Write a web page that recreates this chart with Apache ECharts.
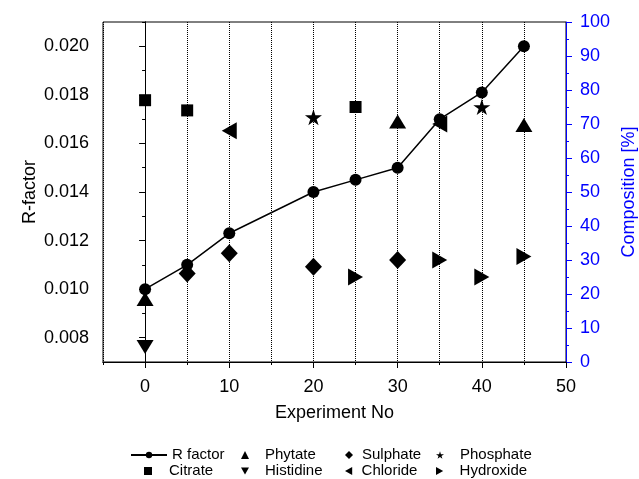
<!DOCTYPE html>
<html>
<head>
<meta charset="utf-8">
<script src="https://cdn.jsdelivr.net/npm/echarts@6/dist/echarts.min.js"></script>
<style>
html, body { margin: 0; padding: 0; background: #fff; }
#main { width: 639px; height: 479px; }
</style>
</head>
<body>
<div id="main"></div>
<script>
// R factor (left axis)
var expNo = [0, 5, 10, 20, 25, 30, 35, 40, 45];
var rFactor = [0.0100, 0.0110, 0.0123, 0.0140, 0.0145, 0.0150, 0.0170, 0.0181, 0.0200];

// composition [%] (right axis)
var citrateX = [0, 5, 25];
var citrate = [77, 74, 75];
var phytateX = [0, 30, 45];
var phytate = [18.5, 70.7, 69.7];
var histidineX = [0];
var histidine = [4.4];
var sulphateX = [5, 10, 20, 30];
var sulphate = [26, 32, 28, 30];
var chlorideX = [10, 35];
var chloride = [68, 70];
var phosphateX = [20, 40];
var phosphate = [72, 75];
var hydroxideX = [25, 35, 40, 45];
var hydroxide = [25, 30, 25, 31];

var FONT = 'Liberation Sans, Arial, Helvetica, sans-serif';
var BLUE = '#0000ff';

var downTri = 'path://M0,0L10,0L5,9Z';
var leftTri = 'path://M9,0L9,10L0,5Z';
var rightTri = 'path://M0,0L0,10L9,5Z';
var star = 'path://M50,0L61,35L98,35L68,57L79,91L50,70L21,91L32,57L2,35L39,35Z';

function pairs(xs, ys) {
    var out = [];
    for (var i = 0; i < xs.length; i++) {
        out.push([xs[i], ys[i]]);
    }
    return out;
}

function comp(name, xs, ys, symbol, size) {
    return {
        name: name,
        type: 'scatter',
        xAxisIndex: 0,
        yAxisIndex: 2,
        symbol: symbol,
        symbolSize: size,
        itemStyle: {color: '#000', opacity: 1},
        data: pairs(xs, ys),
        z: 3
    };
}

// one legend per entry (2 rows x 4 columns under the plot)
function legendItem(name, left, top, w, pad) {
    return {
        data: [name],
        left: left,
        top: top,
        padding: 0,
        itemWidth: w,
        itemHeight: 8,
        selectedMode: false,
        textStyle: {fontFamily: FONT, fontSize: 15, color: '#000', lineHeight: 16, padding: [0, 0, 0, pad]}
    };
}

var myChart = echarts.init(document.getElementById('main'));

var option = {
    animation: false,
    textStyle: {fontFamily: FONT},
    grid: {
        left: 103, right: 73, top: 22, bottom: 117,
        outerBoundsMode: 'none',
        show: true, borderColor: '#000', borderWidth: 1
    },
    legend: [
        legendItem('R factor', 130, 447, 36, 0),
        legendItem('Citrate', 144, 463, 8, 12),
        legendItem('Phytate', 241, 447, 8, 11),
        legendItem('Histidine', 241, 463, 8, 11),
        legendItem('Sulphate', 345, 447, 8, 4),
        legendItem('Chloride', 345, 463, 8, 4),
        legendItem('Phosphate', 436, 447, 8, 11),
        legendItem('Hydroxide', 436, 463, 8, 11)
    ],
    xAxis: [
        {
            // minor ticks + dotted grid lines
            type: 'value', position: 'bottom',
            min: -5, max: 50, interval: 5,
            axisLine: {lineStyle: {color: '#000', width: 1}},
            axisTick: {length: 3, lineStyle: {color: '#000'}},
            axisLabel: {show: false},
            splitLine: {show: true, lineStyle: {type: 'dotted', color: '#000', width: 1}}
        },
        {
            type: 'value', position: 'bottom',
            min: -5, max: 50, splitNumber: 5,
            axisLine: {lineStyle: {color: '#000', width: 1}},
            axisTick: {length: 6, lineStyle: {color: '#000'}},
            axisLabel: {fontSize: 18, color: '#000', margin: 16, showMinLabel: false},
            splitLine: {show: false},
            name: 'Experiment No',
            nameLocation: 'middle',
            nameGap: 42,
            nameMoveOverlap: false,
            nameTextStyle: {fontSize: 18, color: '#000'}
        }
    ],
    yAxis: [
        {
            type: 'value', position: 'left',
            min: 0.007, max: 0.021, interval: 0.001,
            axisLine: {show: true, lineStyle: {color: '#000', width: 1}},
            axisTick: {length: 3, lineStyle: {color: '#000'}},
            axisLabel: {show: false},
            splitLine: {show: false}
        },
        {
            type: 'value', position: 'left',
            min: 0.007, max: 0.021, splitNumber: 7,
            axisLine: {show: true, lineStyle: {color: '#000', width: 1}},
            axisTick: {length: 6, lineStyle: {color: '#000'}},
            axisLabel: {
                fontSize: 18, color: '#000', margin: 14,
                showMinLabel: false, showMaxLabel: false,
                formatter: function (v) { return v.toFixed(3); }
            },
            splitLine: {show: false},
            name: 'R-factor',
            nameLocation: 'middle',
            nameRotate: 90,
            nameGap: 64,
            nameMoveOverlap: false,
            nameTextStyle: {fontSize: 18, color: '#000'}
        },
        {
            type: 'value', position: 'right',
            min: 0, max: 100, interval: 10,
            axisLine: {show: true, lineStyle: {color: BLUE, width: 1}},
            axisTick: {length: 6, lineStyle: {color: BLUE}},
            minorTick: {show: true, splitNumber: 2, length: 3, lineStyle: {color: BLUE}},
            axisLabel: {fontSize: 18, color: BLUE, margin: 14},
            splitLine: {show: false},
            name: 'Composition [%]',
            nameLocation: 'middle',
            nameRotate: 90,
            nameGap: 54,
            nameMoveOverlap: false,
            nameTextStyle: {fontSize: 18, color: BLUE}
        }
    ],
    series: [
        {
            name: 'R factor',
            type: 'line',
            xAxisIndex: 0,
            yAxisIndex: 0,
            symbol: 'circle',
            symbolSize: 12,
            itemStyle: {color: '#000'},
            lineStyle: {color: '#000', width: 1.5},
            data: pairs(expNo, rFactor),
            z: 4
        },
        comp('Citrate', citrateX, citrate, 'rect', 12),
        comp('Phytate', phytateX, phytate, 'triangle', [17, 14]),
        comp('Histidine', histidineX, histidine, downTri, [17, 14]),
        comp('Sulphate', sulphateX, sulphate, 'diamond', [17, 18]),
        comp('Chloride', chlorideX, chloride, leftTri, [15, 17]),
        comp('Phosphate', phosphateX, phosphate, star, [17, 16]),
        comp('Hydroxide', hydroxideX, hydroxide, rightTri, [15, 17])
    ]
};

myChart.setOption(option);
</script>
</body>
</html>
